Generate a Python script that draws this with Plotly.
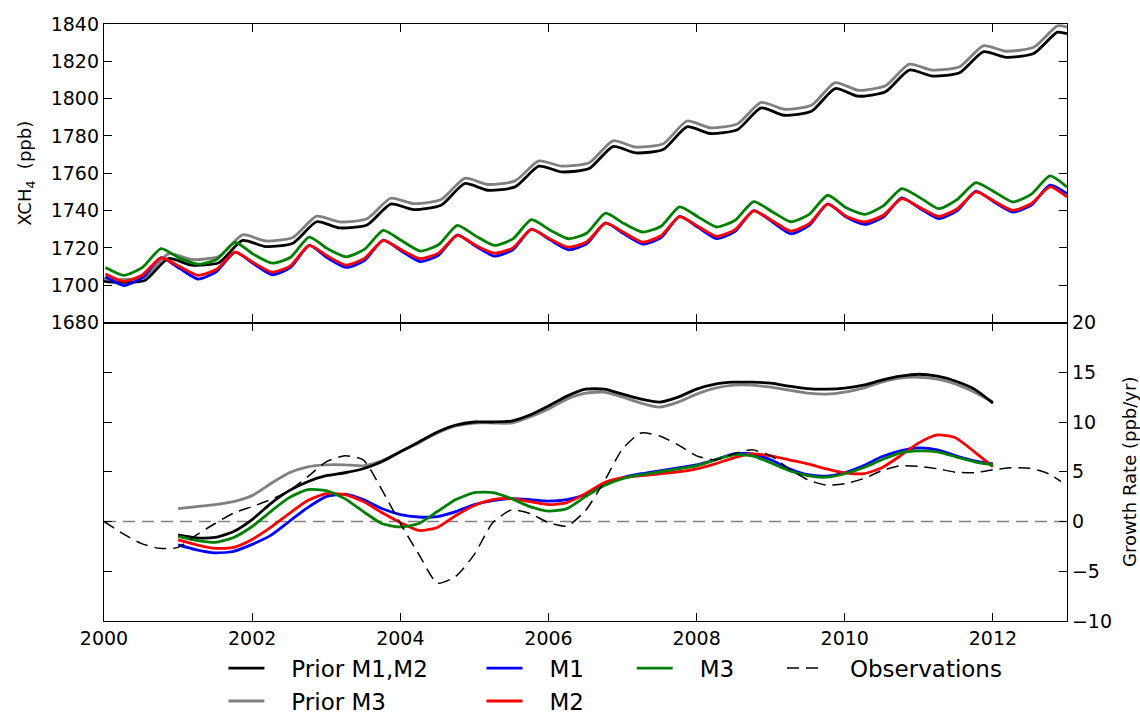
import plotly.graph_objects as go

# ---------------------------------------------------------------- time axes
YEARS = list(range(2000, 2013))
MODEL_PHASES = (0.02, 0.27, 0.52, 0.77)   # post-peak, spring minimum, rise, autumn maximum
PRIOR_PHASES = (0.18, 0.55, 0.87)         # winter dip, plateau, autumn maximum

t_model = [y + p for y in YEARS for p in MODEL_PHASES] + [2013.0]
t_prior = [2000.0] + [y + p for y in YEARS for p in PRIOR_PHASES] + [2013.0]
t_growth = [2001.0 + 0.25 * i for i in range(45)]          # 2001.0 .. 2012.0
t_obs = [2000.0 + 0.25 * i for i in range(52)] + [2012.92]  # 2000.0 .. 2012.92

# ---------------------------------------------------------------- XCH4 (ppb)
xch4_prior_m12 = [
    1702.0,
    1701.5, 1702.5, 1714.3,
    1710.8, 1712.0, 1724.0,
    1720.7, 1722.5, 1734.0,
    1730.7, 1732.3, 1743.5,
    1740.5, 1742.8, 1754.5,
    1750.9, 1752.7, 1763.8,
    1760.7, 1762.5, 1774.3,
    1770.9, 1772.7, 1784.9,
    1781.3, 1783.3, 1795.0,
    1791.1, 1793.2, 1805.4,
    1801.3, 1803.7, 1815.3,
    1812.1, 1813.9, 1825.1,
    1822.1, 1824.2, 1835.6,
    1834.8,
]
xch4_prior_m3 = [
    1703.5,
    1703.0, 1704.2, 1716.8,
    1713.8, 1715.3, 1727.0,
    1723.7, 1725.6, 1737.0,
    1733.9, 1735.6, 1746.6,
    1743.7, 1745.9, 1757.3,
    1754.0, 1755.9, 1766.6,
    1763.8, 1765.6, 1777.4,
    1774.0, 1775.8, 1788.0,
    1784.4, 1786.4, 1798.0,
    1794.3, 1796.4, 1808.6,
    1804.5, 1806.9, 1818.5,
    1815.3, 1817.1, 1828.3,
    1825.4, 1827.5, 1839.0,
    1838.3,
]
xch4_m1 = [
    1704.5, 1699.8, 1704.0, 1714.8,
    1709.0, 1703.3, 1707.3, 1717.7,
    1711.5, 1705.6, 1709.5, 1721.3,
    1714.5, 1709.5, 1713.3, 1724.2,
    1718.2, 1712.6, 1716.2, 1726.9,
    1720.8, 1715.6, 1719.0, 1730.0,
    1724.3, 1719.0, 1722.3, 1733.4,
    1727.5, 1722.0, 1725.5, 1736.9,
    1731.0, 1725.0, 1728.8, 1740.0,
    1734.0, 1727.6, 1732.0, 1743.6,
    1736.5, 1732.6, 1736.5, 1746.8,
    1741.0, 1735.7, 1740.0, 1750.4,
    1744.5, 1739.2, 1743.0, 1753.6,
    1749.0,
]
xch4_m2 = [
    1706.0, 1702.0, 1705.5, 1714.7,
    1710.0, 1705.3, 1708.5, 1717.7,
    1712.0, 1707.0, 1710.5, 1721.3,
    1715.5, 1710.8, 1714.5, 1724.0,
    1718.8, 1714.2, 1717.3, 1726.7,
    1721.3, 1717.2, 1720.0, 1729.9,
    1724.8, 1720.4, 1723.3, 1733.2,
    1728.2, 1723.1, 1726.5, 1736.7,
    1731.5, 1726.2, 1729.8, 1739.8,
    1734.6, 1729.0, 1733.0, 1743.4,
    1737.0, 1733.9, 1737.5, 1746.4,
    1741.5, 1736.9, 1741.0, 1750.0,
    1745.0, 1740.1, 1743.8, 1752.7,
    1747.3,
]
xch4_m3 = [
    1709.5, 1705.3, 1709.5, 1719.6,
    1714.5, 1711.3, 1713.8, 1723.0,
    1716.5, 1711.8, 1715.0, 1725.8,
    1719.5, 1715.2, 1719.3, 1729.4,
    1723.8, 1718.3, 1721.8, 1732.1,
    1726.3, 1721.3, 1724.8, 1735.1,
    1729.6, 1724.9, 1728.0, 1738.6,
    1733.0, 1728.5, 1731.6, 1742.0,
    1736.6, 1731.2, 1734.8, 1744.8,
    1739.4, 1734.0, 1738.0, 1748.2,
    1741.5, 1738.0, 1742.5, 1751.8,
    1746.8, 1741.0, 1746.0, 1755.0,
    1750.0, 1744.6, 1748.8, 1758.6,
    1752.6,
]

# ---------------------------------------------------------------- growth rate (ppb/yr)
gr_prior_m12 = [
    -1.35, -1.65, -1.6, -1.0,
    0.2, 1.8, 3.1, 4.0,
    4.6, 4.9, 5.3, 6.0,
    7.0, 8.0, 9.0, 9.7,
    10.0, 10.0, 10.1, 10.7,
    11.6, 12.6, 13.3, 13.3,
    12.8, 12.3, 12.0, 12.5,
    13.3, 13.8, 14.0, 14.0,
    13.9, 13.6, 13.35, 13.3,
    13.4, 13.7, 14.2, 14.6,
    14.8, 14.6, 14.1, 13.3,
    11.9,
]
gr_prior_m3 = [
    1.3, 1.5, 1.7, 2.0,
    2.6, 3.8, 4.9, 5.5,
    5.7, 5.7, 5.6, 6.1,
    7.0, 7.9, 8.9, 9.6,
    9.9, 9.9, 9.9, 10.5,
    11.3, 12.3, 12.9, 13.0,
    12.5, 11.9, 11.5, 12.0,
    12.8, 13.4, 13.7, 13.7,
    13.5, 13.2, 12.9, 12.8,
    13.0, 13.4, 14.0, 14.4,
    14.5, 14.3, 13.8, 13.0,
    12.0,
]
gr_m1 = [
    -2.35, -2.85, -3.15, -3.0,
    -2.3, -1.4, 0.0, 1.4,
    2.5, 2.75, 2.2, 1.3,
    0.7, 0.45, 0.5, 1.0,
    1.7, 2.1, 2.3, 2.2,
    2.05, 2.2, 2.7, 3.7,
    4.4, 4.8, 5.1, 5.4,
    5.7, 6.2, 6.8, 6.8,
    6.2, 5.3, 4.7, 4.57,
    4.9, 5.6, 6.5, 7.1,
    7.4, 7.2, 6.6, 6.1,
    5.8,
]
gr_m2 = [
    -1.85, -2.35, -2.7, -2.6,
    -1.8, -0.6, 0.8, 2.1,
    2.8, 2.7, 2.0, 0.9,
    -0.1, -0.9, -0.6, 0.6,
    1.6, 2.2, 2.3, 2.0,
    1.7, 1.9, 2.8, 3.9,
    4.4, 4.6, 4.8, 5.0,
    5.3, 5.8, 6.4, 6.8,
    6.6, 6.2, 5.8, 5.3,
    4.9, 4.8, 5.4, 6.6,
    7.9, 8.7, 8.4, 7.0,
    5.5,
]
gr_m3 = [
    -1.5, -1.9, -2.1, -1.6,
    -0.5, 1.0, 2.4, 3.2,
    3.1, 2.3, 1.0, -0.2,
    -0.55, -0.2, 1.0, 2.2,
    2.9, 2.9, 2.3, 1.5,
    1.05, 1.3, 2.5, 3.6,
    4.3, 4.7, 5.0, 5.3,
    5.6, 6.2, 6.7, 6.6,
    5.9, 5.1, 4.6, 4.45,
    4.8, 5.4, 6.2, 6.9,
    7.1, 7.0, 6.5, 6.0,
    5.7,
]
gr_obs = [
    0.0, -1.2, -2.2, -2.7,
    -2.6, -1.35, -0.2, 0.85,
    1.5, 2.2, 3.1, 4.5,
    6.0, 6.6, 6.2, 3.2,
    -0.2, -3.3, -6.2, -5.5,
    -3.3, -0.1, 1.15, 0.8,
    -0.1, -0.45, 1.1, 4.0,
    7.3, 8.9, 8.6, 7.7,
    6.6, 6.2, 6.8, 7.2,
    6.6, 5.3, 4.2, 3.65,
    3.8, 4.3, 5.1, 5.6,
    5.55, 5.3, 4.95, 4.9,
    5.2, 5.4, 5.35, 4.8,
    4.0,
]
zero_x = [2000, 2013]
zero_y = [0, 0]

X_TICKS = [2000, 2002, 2004, 2006, 2008, 2010, 2012]

FONT = "DejaVu Sans"
BLACK, GREY = "#000000", "#808080"
BLUE, RED, GREEN = "#0000ff", "#ff0000", "#008000"
LW = 2.8
DASH = "12px,7px"
PAD = "\u00a0\u00a0\u00a0"   # gap between a legend key and its label

fig = go.Figure()


def model_line(x, y, color, name, axes, legend, rank, show):
    xa, ya = axes
    fig.add_trace(go.Scatter(
        x=x, y=y, mode="lines", name=PAD + name, xaxis=xa, yaxis=ya,
        line=dict(color=color, width=LW, shape="spline", smoothing=0.6),
        legend=legend, legendrank=rank, showlegend=show, legendgroup=name,
    ))


TOP, BOT = ("x", "y"), ("x2", "y2")

# upper panel: column concentrations
model_line(t_prior, xch4_prior_m3, GREY, "Prior M3", TOP, "legend", 2, False)
model_line(t_prior, xch4_prior_m12, BLACK, "Prior M1,M2", TOP, "legend", 1, False)
model_line(t_model, xch4_m1, BLUE, "M1", TOP, "legend2", 1, False)
model_line(t_model, xch4_m2, RED, "M2", TOP, "legend2", 2, False)
model_line(t_model, xch4_m3, GREEN, "M3", TOP, "legend3", 1, False)

# lower panel: growth rates
fig.add_trace(go.Scatter(
    x=zero_x, y=zero_y, mode="lines", xaxis="x2", yaxis="y2", showlegend=False,
    line=dict(color=GREY, width=1.5, dash=DASH), hoverinfo="skip",
))
model_line(t_growth, gr_prior_m3, GREY, "Prior M3", BOT, "legend", 2, True)
model_line(t_growth, gr_prior_m12, BLACK, "Prior M1,M2", BOT, "legend", 1, True)
model_line(t_growth, gr_m1, BLUE, "M1", BOT, "legend2", 1, True)
model_line(t_growth, gr_m2, RED, "M2", BOT, "legend2", 2, True)
model_line(t_growth, gr_m3, GREEN, "M3", BOT, "legend3", 1, True)
fig.add_trace(go.Scatter(
    x=t_obs, y=gr_obs, mode="lines", name=PAD + "Observations", xaxis="x2", yaxis="y2",
    line=dict(color=BLACK, width=1.5, dash=DASH, shape="spline", smoothing=0.6),
    legend="legend4", showlegend=True,
))

axis_common = dict(
    showline=True, linecolor="black", linewidth=1.3, mirror="allticks",
    ticks="inside", ticklen=8, tickwidth=1.3, tickcolor="black",
    showgrid=False, zeroline=False, automargin=False,
    tickfont=dict(family=FONT, size=19, color="black"),
)

legend_common = dict(
    orientation="v", xanchor="left", yanchor="top", y=-0.043,
    bgcolor="rgba(0,0,0,0)", borderwidth=0,
    font=dict(family=FONT, size=23, color="black"),
    traceorder="normal", itemwidth=36, tracegroupgap=2,
)

fig.update_layout(
    width=1140, height=716,
    margin=dict(l=104, r=73, t=24, b=95, autoexpand=False),
    paper_bgcolor="white", plot_bgcolor="white",
    font=dict(family=FONT, size=19, color="black"),
    xaxis=dict(axis_common, domain=[0, 1], range=[2000, 2013], tickvals=X_TICKS,
               showticklabels=False, anchor="y", matches="x2"),
    yaxis=dict(axis_common, domain=[0.5, 1], range=[1680, 1840], dtick=20, tick0=1680,
               anchor="x",
               title=dict(text="XCH<sub>4</sub>  (ppb)", standoff=14,
                          font=dict(family=FONT, size=18, color="black"))),
    xaxis2=dict(axis_common, domain=[0, 1], range=[2000, 2013], tickvals=X_TICKS,
                anchor="y2"),
    yaxis2=dict(axis_common, domain=[0, 0.5], range=[-10, 20], dtick=5, tick0=-10,
                side="right", anchor="x2",
                title=dict(text="Growth Rate (ppb/yr)", standoff=14,
                           font=dict(family=FONT, size=18, color="black"))),
    legend=dict(legend_common, x=0.124),
    legend2=dict(legend_common, x=0.392),
    legend3=dict(legend_common, x=0.548),
    legend4=dict(legend_common, x=0.704),
    showlegend=True,
)

fig.write_html("out.html")
